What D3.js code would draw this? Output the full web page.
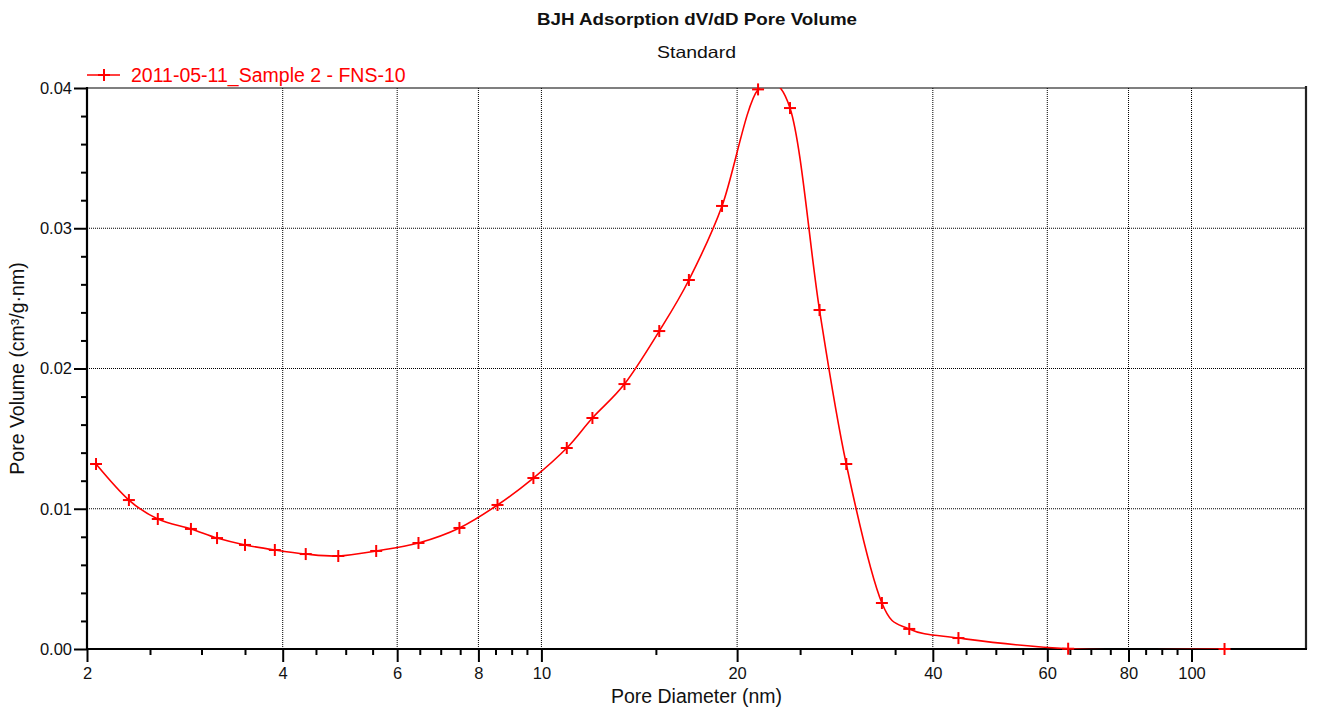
<!DOCTYPE html>
<html>
<head>
<meta charset="utf-8">
<script src="https://cdn.jsdelivr.net/npm/d3@7"></script>
<style>
  html, body { margin: 0; padding: 0; background: #fff; }
  svg { display: block; font-family: "Liberation Sans", Arial, sans-serif; }
</style>
</head>
<body>
<svg id="chart" width="1320" height="710"></svg>
<script>
// ---- Data ----
const poreDiameter = [2.065, 2.32, 2.57, 2.89, 3.17, 3.50, 3.89, 4.34, 4.87, 5.57, 6.47, 7.48, 8.56, 9.72,
  10.94, 11.98, 13.42, 15.18, 16.86, 18.96, 21.54, 24.12, 26.78, 29.44, 33.4, 36.8, 43.8, 64.6, 112.4];
const poreVolume = [0.01319, 0.01062, 0.00927, 0.00856, 0.00791, 0.00742, 0.00706, 0.00677, 0.00663, 0.00699,
  0.00756, 0.00863, 0.01027, 0.01219, 0.01433, 0.01647, 0.01889, 0.02267, 0.02631, 0.03159, 0.03990, 0.03857,
  0.02417, 0.01319, 0.00328, 0.00143, 0.00078, 0.00002, 0.0];

const xMajorTicks = [2, 4, 6, 8, 10, 20, 40, 60, 80, 100];
const xGridTicks = [4, 6, 8, 10, 20, 40, 60, 80, 100];
const xMinorTicks = d3.range(2.5, 10, 0.5).concat(d3.range(15, 100, 5)).filter(v => !xMajorTicks.includes(v));
const yMajorTicks = [0, 0.01, 0.02, 0.03, 0.04];
const yGridTicks = [0.01, 0.02, 0.03];
const yMinorTicks = d3.range(0.002, 0.04, 0.002).filter(v => Math.abs(v * 100 - Math.round(v * 100)) > 1e-6);

const title = "BJH Adsorption dV/dD Pore Volume";
const subtitle = "Standard";
const xLabel = "Pore Diameter (nm)";
const yLabel = "Pore Volume (cm³/g·nm)";
const seriesName = "2011-05-11_Sample 2 - FNS-10";

// ---- Layout ----
const pL = 87, pR = 1306, pT = 88, pB = 649;
const red = "#ff0000";

const svg = d3.select("#chart");
const x = d3.scaleLog().domain([2, 150]).range([pL, pR]);
const y = d3.scaleLinear().domain([0, 0.04]).range([pB, pT]);

// Grid
const grid = svg.append("g");
grid.selectAll("line.gx").data(xGridTicks).join("line")
  .attr("x1", d => x(d)).attr("x2", d => x(d))
  .attr("y1", pT).attr("y2", pB)
  .attr("stroke", "#000").attr("stroke-width", 1).attr("stroke-dasharray", "1,1");
grid.selectAll("line.gy").data(yGridTicks).join("line")
  .attr("x1", pL).attr("x2", pR)
  .attr("y1", d => y(d)).attr("y2", d => y(d))
  .attr("stroke", "#000").attr("stroke-width", 1).attr("stroke-dasharray", "1,1");

// Frame (top and right)
svg.append("line").attr("x1", pL).attr("x2", pR).attr("y1", pT).attr("y2", pT)
  .attr("stroke", "#000").attr("stroke-width", 1.2);
svg.append("line").attr("x1", pR).attr("x2", pR).attr("y1", pT - 2).attr("y2", pB)
  .attr("stroke", "#222").attr("stroke-width", 2.2);

// X axis
const xAxisMajor = d3.axisBottom(x).tickValues(xMajorTicks).tickSize(13).tickPadding(5)
  .tickFormat(d3.format("d"));
const xAxisMinor = d3.axisBottom(x).tickValues(xMinorTicks).tickSize(6).tickFormat("");
const gxMinor = svg.append("g").attr("transform", `translate(0,${pB})`).call(xAxisMinor);
const gxMajor = svg.append("g").attr("transform", `translate(0,${pB})`).call(xAxisMajor);
[gxMinor, gxMajor].forEach(g => {
  g.select(".domain").remove();
  g.selectAll(".tick line").attr("stroke", "#000").attr("stroke-width", 2);
});
gxMajor.selectAll(".tick text").attr("font-size", "16.5px").attr("fill", "#111")
  .attr("font-family", '"Liberation Sans", Arial, sans-serif');

// Y axis
const yAxisMajor = d3.axisLeft(y).tickValues(yMajorTicks).tickSize(13).tickPadding(2)
  .tickFormat(d3.format(".2f"));
const yAxisMinor = d3.axisLeft(y).tickValues(yMinorTicks).tickSize(6).tickFormat("");
const gyMinor = svg.append("g").attr("transform", `translate(${pL},0)`).call(yAxisMinor);
const gyMajor = svg.append("g").attr("transform", `translate(${pL},0)`).call(yAxisMajor);
[gyMinor, gyMajor].forEach(g => {
  g.select(".domain").remove();
  g.selectAll(".tick line").attr("stroke", "#000").attr("stroke-width", 2);
});
gyMajor.selectAll(".tick text").attr("font-size", "16.5px").attr("fill", "#111")
  .attr("font-family", '"Liberation Sans", Arial, sans-serif');

// Axis lines
svg.append("line").attr("x1", pL).attr("x2", pR + 1).attr("y1", pB).attr("y2", pB)
  .attr("stroke", "#000").attr("stroke-width", 2.2);
svg.append("line").attr("x1", pL).attr("x2", pL).attr("y1", pT - 1).attr("y2", pB + 1)
  .attr("stroke", "#000").attr("stroke-width", 2.2);

// Clip
svg.append("defs").append("clipPath").attr("id", "plotclip")
  .append("rect").attr("x", pL).attr("y", pT).attr("width", pR - pL).attr("height", pB - pT);

// Series
const pts = poreDiameter.map((d, i) => [d, poreVolume[i]]);
const line = d3.line().x(d => x(d[0])).y(d => y(d[1])).curve(d3.curveCatmullRom.alpha(0.1));
svg.append("path").datum(pts).attr("d", line)
  .attr("fill", "none").attr("stroke", red).attr("stroke-width", 1.6)
  .attr("clip-path", "url(#plotclip)");

const mk = svg.append("g");
pts.forEach(p => {
  const cx = x(p[0]), cy = y(p[1]);
  mk.append("line").attr("x1", cx - 6).attr("x2", cx + 6).attr("y1", cy).attr("y2", cy)
    .attr("stroke", red).attr("stroke-width", 2);
  mk.append("line").attr("x1", cx).attr("x2", cx).attr("y1", cy - 6).attr("y2", cy + 6)
    .attr("stroke", red).attr("stroke-width", 2);
});

// Legend
const lg = svg.append("g");
lg.append("line").attr("x1", 87).attr("x2", 120).attr("y1", 75).attr("y2", 75)
  .attr("stroke", red).attr("stroke-width", 1.6);
lg.append("line").attr("x1", 98).attr("x2", 110).attr("y1", 75).attr("y2", 75)
  .attr("stroke", red).attr("stroke-width", 2);
lg.append("line").attr("x1", 104).attr("x2", 104).attr("y1", 69).attr("y2", 81)
  .attr("stroke", red).attr("stroke-width", 2);
lg.append("text").attr("x", 131).attr("y", 82).attr("fill", red)
  .attr("font-size", "19.5px").text(seriesName);

// Titles
svg.append("text").attr("x", 537).attr("y", 25).attr("font-size", "16.5px").attr("font-weight", "bold")
  .attr("fill", "#111").attr("textLength", 320).attr("lengthAdjust", "spacingAndGlyphs").text(title);
svg.append("text").attr("x", 657).attr("y", 58).attr("font-size", "16.5px")
  .attr("fill", "#111").attr("textLength", 79).attr("lengthAdjust", "spacingAndGlyphs").text(subtitle);

// Axis labels
svg.append("text").attr("x", (pL + pR) / 2).attr("y", 703).attr("text-anchor", "middle")
  .attr("font-size", "19.5px").attr("fill", "#111").text(xLabel);
svg.append("text").attr("transform", `translate(24,${(pT + pB) / 2}) rotate(-90)`)
  .attr("text-anchor", "middle").attr("font-size", "19.5px").attr("fill", "#111").text(yLabel);
</script>
</body>
</html>
